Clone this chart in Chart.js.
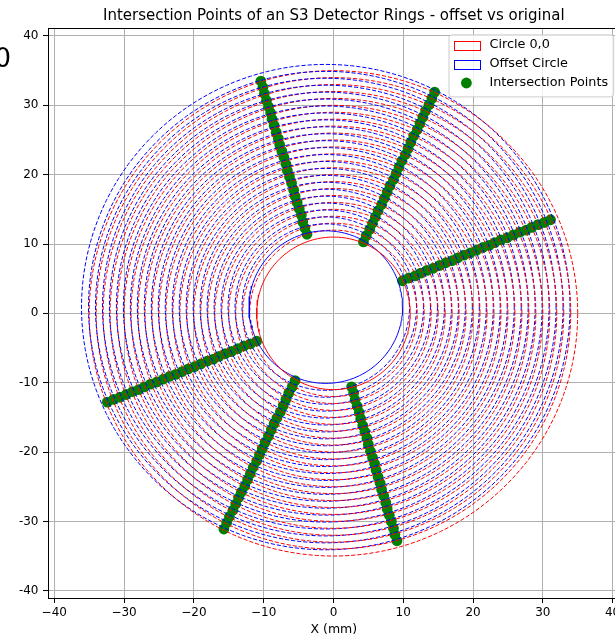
<!DOCTYPE html>
<html><head><meta charset="utf-8">
<script src="https://cdn.jsdelivr.net/npm/chart.js@4.4.1/dist/chart.umd.min.js"></script>
<style>
html,body{margin:0;padding:0;overflow:hidden;background:#fff;}
#wrap{position:relative;width:625px;height:637px;}
</style></head><body>
<div id="wrap"><canvas id="c" width="625" height="637"></canvas></div>
<script>
// ---- data ----
const titleText = 'Intersection Points of an S3 Detector Rings - offset vs original';
const xAxisTitle = 'X (mm)';
const sideText = '0';
const legendLabels = ['Circle 0,0', 'Offset Circle', 'Intersection Points'];
const ringRadii = [11,12,13,14,15,16,17,18,19,20,21,22,23,24,25,26,27,28,29,30,31,32,33,34,35];
const originalCenter = [0, 0];
const offsetCenter = [-1.1, 0.9];
const xTickValues = [-40,-30,-20,-10,0,10,20,30,40];
const yTickValues = [-40,-30,-20,-10,0,10,20,30,40];

const lineA_x = [-3.8,-4.1,-4.4,-4.6,-4.9,-5.2,-5.5,-5.7,-6.0,-6.3,-6.6,-6.8,-7.1,-7.4,-7.7,-7.9,-8.2,-8.5,-8.8,-9.0,-9.3,-9.6,-9.9,-10.1,-10.4];
const lineA_y = [11.4,12.3,13.2,14.2,15.1,16.0,16.9,17.8,18.8,19.7,20.6,21.5,22.5,23.4,24.3,25.2,26.1,27.1,28.0,28.9,29.8,30.7,31.7,32.6,33.5];
const lineB_x = [4.3,4.7,5.2,5.6,6.0,6.4,6.9,7.3,7.7,8.1,8.6,9.0,9.4,9.8,10.3,10.7,11.1,11.5,12.0,12.4,12.8,13.2,13.7,14.1,14.5];
const lineB_y = [10.3,11.2,12.1,13.0,13.9,14.8,15.7,16.6,17.5,18.4,19.3,20.2,21.1,22.0,22.9,23.8,24.7,25.6,26.5,27.4,28.3,29.2,30.1,31.0,31.9];
const lineC_x = [9.9,10.8,11.7,12.5,13.4,14.3,15.2,16.1,17.0,17.8,18.7,19.6,20.5,21.4,22.3,23.1,24.0,24.9,25.8,26.7,27.6,28.4,29.3,30.2,31.1];
const lineC_y = [4.7,5.1,5.4,5.8,6.2,6.5,6.9,7.3,7.6,8.0,8.4,8.7,9.1,9.5,9.8,10.2,10.6,10.9,11.3,11.7,12.0,12.4,12.8,13.1,13.5];
const lineD_x = [-11.0,-11.9,-12.8,-13.7,-14.6,-15.5,-16.4,-17.2,-18.1,-19.0,-19.9,-20.8,-21.7,-22.6,-23.5,-24.4,-25.3,-26.2,-27.1,-27.9,-28.8,-29.7,-30.6,-31.5,-32.4];
const lineD_y = [-4.0,-4.4,-4.7,-5.1,-5.5,-5.8,-6.2,-6.6,-6.9,-7.3,-7.7,-8.0,-8.4,-8.8,-9.1,-9.5,-9.9,-10.2,-10.6,-11.0,-11.3,-11.7,-12.1,-12.4,-12.8];
const lineE_x = [-5.5,-5.9,-6.4,-6.8,-7.2,-7.6,-8.1,-8.5,-8.9,-9.3,-9.8,-10.2,-10.6,-11.0,-11.5,-11.9,-12.3,-12.7,-13.2,-13.6,-14.0,-14.4,-14.9,-15.3,-15.7];
const lineE_y = [-9.7,-10.6,-11.5,-12.4,-13.3,-14.2,-15.1,-15.9,-16.8,-17.7,-18.6,-19.5,-20.4,-21.3,-22.2,-23.1,-24.0,-24.9,-25.8,-26.6,-27.5,-28.4,-29.3,-30.2,-31.1];
const lineF_x = [2.6,2.9,3.1,3.4,3.7,3.9,4.2,4.5,4.8,5.0,5.3,5.6,5.9,6.1,6.4,6.7,6.9,7.2,7.5,7.7,8.0,8.3,8.6,8.8,9.1];
const lineF_y = [-10.6,-11.5,-12.5,-13.4,-14.3,-15.2,-16.2,-17.1,-18.0,-18.9,-19.9,-20.8,-21.7,-22.6,-23.6,-24.5,-25.4,-26.3,-27.3,-28.2,-29.1,-30.0,-31.0,-31.9,-32.8];

// ---- styles ----
const FONT = "'DejaVu Sans', sans-serif";
const RED = '#ff0000', BLUE = '#0000ff', GREEN = '#008000';
const DASH = [4.2, 1.9];
const LW = 1.0;

function circlePoints(c, r) {
  const pts = [];
  for (let a = 0; a <= 360; a += 2) {
    const t = a * Math.PI / 180;
    pts.push({x: c[0] + r * Math.cos(t), y: c[1] + r * Math.sin(t)});
  }
  return pts;
}
function zip(xs, ys) { return xs.map((x, i) => ({x: x, y: ys[i]})); }

const datasets = [];
ringRadii.forEach((r, i) => {
  datasets.push({
    label: i === 0 ? legendLabels[0] : '', data: circlePoints(originalCenter, r),
    showLine: true, borderColor: RED, borderWidth: LW, borderDash: i === 0 ? [] : DASH,
    pointRadius: 0, fill: false, tension: 0
  });
  datasets.push({
    label: i === 0 ? legendLabels[1] : '', data: circlePoints(offsetCenter, r),
    showLine: true, borderColor: BLUE, borderWidth: LW, borderDash: i === 0 ? [] : DASH,
    pointRadius: 0, fill: false, tension: 0
  });
});
const allPoints = [].concat(zip(lineA_x, lineA_y), zip(lineB_x, lineB_y), zip(lineC_x, lineC_y),
  zip(lineD_x, lineD_y), zip(lineE_x, lineE_y), zip(lineF_x, lineF_y));
datasets.push({
  label: legendLabels[2], data: allPoints, showLine: false,
  pointRadius: 5.4, pointBackgroundColor: GREEN, pointBorderWidth: 0, backgroundColor: GREEN
});

const framePlugin = {
  id: 'frame',
  afterDatasetsDraw(chart) {
    const {ctx, chartArea: a} = chart;
    ctx.save();
    ctx.strokeStyle = '#000'; ctx.lineWidth = 1;
    ctx.beginPath();
    ctx.moveTo(a.left, a.top + 0.5); ctx.lineTo(a.right, a.top + 0.5);
    ctx.moveTo(a.right - 0.5, a.top); ctx.lineTo(a.right - 0.5, a.bottom);
    ctx.stroke();
    ctx.restore();
  },
  afterDraw(chart) {
    const {ctx, chartArea: a} = chart;
    ctx.save();
    // stray text at left
    ctx.fillStyle = '#000';
    ctx.font = '26px ' + FONT;
    ctx.textAlign = 'right'; ctx.textBaseline = 'alphabetic';
    ctx.fillText(sideText, 11, 67);
    // legend
    const fs = 12.8;
    ctx.font = fs + 'px ' + FONT;
    const tw = Math.max(...legendLabels.map(t => ctx.measureText(t).width));
    const pad = 0.4 * fs, hl = 2 * fs, htp = 0.8 * fs;
    const w = pad + hl + htp + tw + pad;
    const right = a.right - 0.5 * fs, top = a.top + 0.5 * fs;
    const left = right - w, h = 62;
    ctx.beginPath();
    if (ctx.roundRect) ctx.roundRect(left + 0.5, top + 0.5, w, h, 3); else ctx.rect(left + 0.5, top + 0.5, w, h);
    ctx.fillStyle = 'rgba(255,255,255,0.8)'; ctx.fill();
    ctx.strokeStyle = '#cccccc'; ctx.lineWidth = 1; ctx.stroke();
    const rows = [top + 10.6, top + 29.6, top + 48.6];
    const hx = left + pad;
    ctx.lineWidth = LW;
    ctx.strokeStyle = RED; ctx.strokeRect(Math.round(hx) + 0.5, Math.round(rows[0] - 4.5) + 0.5, Math.round(hl), 9);
    ctx.strokeStyle = BLUE; ctx.strokeRect(Math.round(hx) + 0.5, Math.round(rows[1] - 4.5) + 0.5, Math.round(hl), 9);
    ctx.fillStyle = GREEN; ctx.beginPath(); ctx.arc(hx + hl / 2, rows[2], 5.4, 0, Math.PI * 2); ctx.fill();
    ctx.fillStyle = '#000'; ctx.textAlign = 'left'; ctx.textBaseline = 'middle';
    legendLabels.forEach((t, i) => ctx.fillText(t, hx + hl + htp, rows[i]));
    ctx.restore();
  }
};

const tickFont = {family: FONT, size: 12};
new Chart(document.getElementById('c'), {
  type: 'scatter',
  data: {datasets: datasets},
  plugins: [framePlugin],
  options: {
    responsive: false, animation: false, events: [],
    layout: {padding: {top: 0, right: 4, left: 0, bottom: 0}},
    plugins: {
      legend: {display: false}, tooltip: {enabled: false},
      title: {display: true, text: titleText, fullSize: false, color: '#000',
        font: {family: FONT, size: 15, weight: 'normal'}, padding: {top: 7, bottom: 3}}
    },
    scales: {
      x: {
        type: 'linear', min: -40.9, max: 41.0,
        afterFit: s => { s.height = 39; },
        afterBuildTicks: s => { s.ticks = xTickValues.map(v => ({value: v})); },
        ticks: {font: tickFont, color: '#000', padding: 3, maxRotation: 0, autoSkip: false,
          callback: v => String(v).replace('-', '\u2212')},
        grid: {color: '#b0b0b0', lineWidth: 1, tickLength: 5, tickColor: '#000', tickWidth: 1},
        border: {color: '#000', width: 1},
        title: {display: true, text: xAxisTitle, color: '#000', font: {family: FONT, size: 12.5}, padding: 0}
      },
      y: {
        type: 'linear', min: -41.05, max: 41.15,
        afterFit: s => { s.width = 48; },
        afterBuildTicks: s => { s.ticks = yTickValues.map(v => ({value: v})); },
        ticks: {font: tickFont, color: '#000', padding: 4.5, autoSkip: false,
          callback: v => String(v)},
        grid: {color: '#b0b0b0', lineWidth: 1, tickLength: 5, tickColor: '#000', tickWidth: 1},
        border: {color: '#000', width: 1}
      }
    }
  }
});
</script>
</body></html>
